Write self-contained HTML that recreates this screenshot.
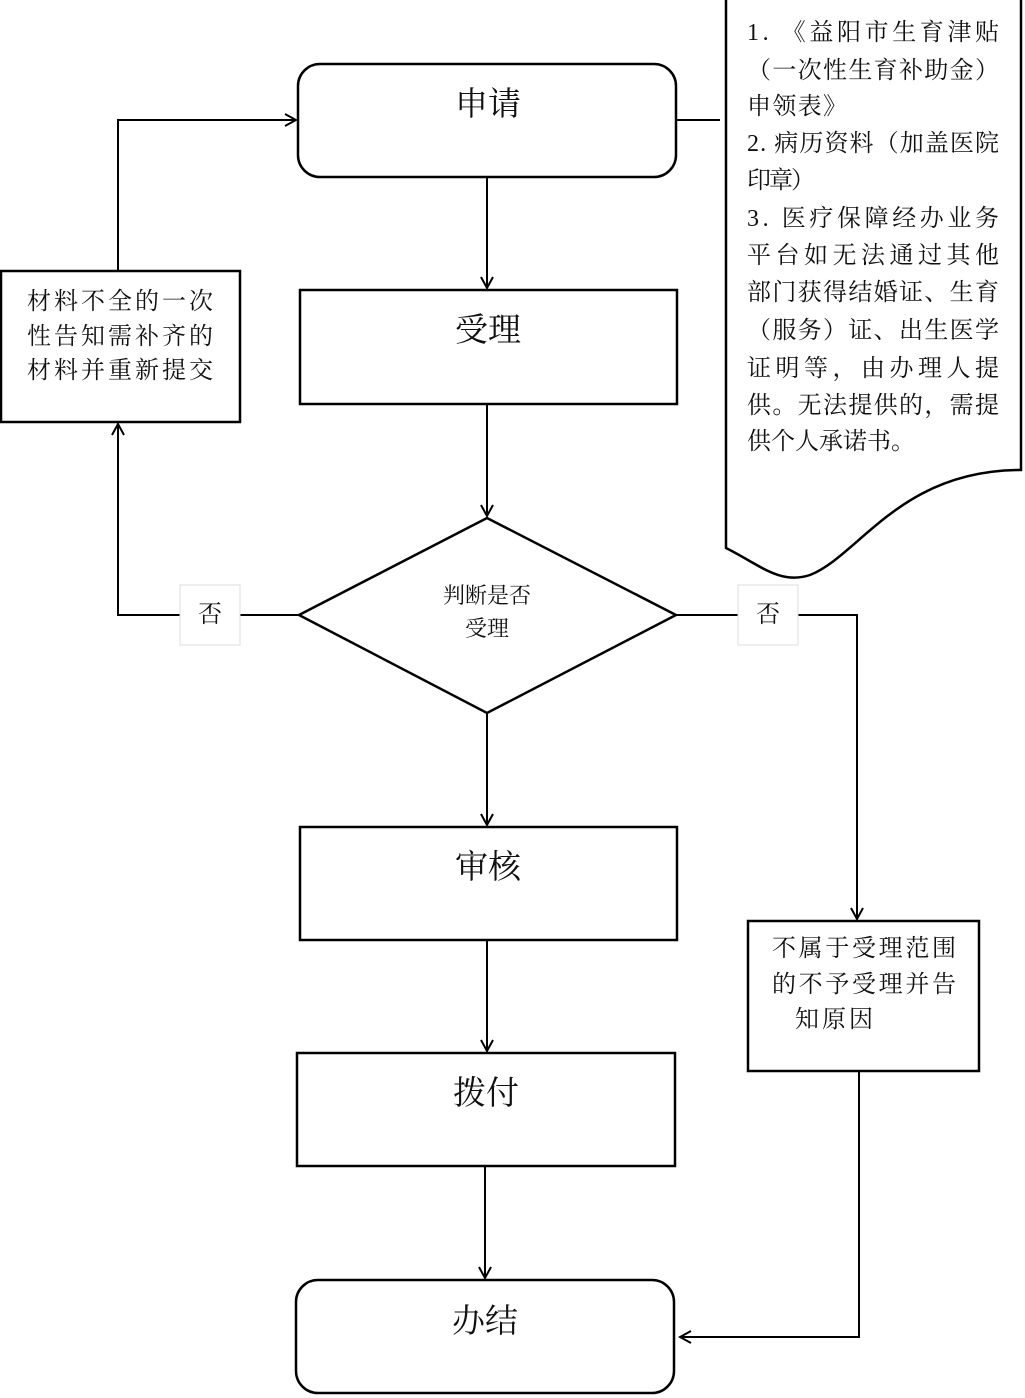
<!DOCTYPE html>
<html><head><meta charset="utf-8"><style>
body{margin:0;background:#fff}
svg{display:block}
text{font-family:"Liberation Serif","Noto Serif CJK SC",serif;fill:#111}
</style></head><body>
<svg width="1025" height="1398" viewBox="0 0 1025 1398" xmlns="http://www.w3.org/2000/svg">
<defs><marker id="a" markerWidth="14" markerHeight="14" refX="12" refY="7" orient="auto" markerUnits="userSpaceOnUse"><path d="M1,1 L12,7 L1,13" fill="none" stroke="#000" stroke-width="2"/></marker></defs>
<g fill="none" stroke="#000" stroke-width="2.5">
<rect x="298" y="64" width="378" height="113" rx="22"/>
<rect x="300" y="290" width="377" height="114"/>
<polygon points="299,615 487,518 676,615 487,713"/>
<rect x="300" y="827" width="377" height="113"/>
<rect x="297" y="1053" width="378" height="113"/>
<rect x="296" y="1280" width="378" height="113" rx="22"/>
<rect x="1" y="271" width="239" height="151"/>
<rect x="748" y="921" width="231" height="150"/>
<path d="M726,0 L726,548 C760,565 780,585 810,575 C860,555 900,470 1021,470 L1021,0"/>
</g>
<g fill="none" stroke="#000" stroke-width="2">
<line x1="676" y1="120" x2="720" y2="120"/>
<line x1="487" y1="177" x2="487" y2="288" marker-end="url(#a)"/>
<line x1="487" y1="404" x2="487" y2="516" marker-end="url(#a)"/>
<line x1="487" y1="713" x2="487" y2="825" marker-end="url(#a)"/>
<line x1="487" y1="940" x2="487" y2="1051" marker-end="url(#a)"/>
<line x1="485" y1="1166" x2="485" y2="1278" marker-end="url(#a)"/>
<polyline points="299,615 118,615 118,424" marker-end="url(#a)"/>
<polyline points="118,271 118,120 296,120" marker-end="url(#a)"/>
<polyline points="676,615 857,615 857,919" marker-end="url(#a)"/>
<polyline points="859,1071 859,1337 680,1337" marker-end="url(#a)"/>
</g>
<rect x="180" y="585" width="60" height="60" fill="#fff" stroke="#ddd"/>
<rect x="738" y="585" width="60" height="60" fill="#fff" stroke="#ddd"/>
<g font-size="24" text-anchor="middle">
<text x="210" y="622">否</text><text x="768" y="622">否</text>
</g>
<g font-size="33" text-anchor="middle">
<text x="488" y="115">申请</text>
<text x="488" y="341">受理</text>
<text x="488" y="878">审核</text>
<text x="486" y="1104">拨付</text>
<text x="485" y="1332">办结</text>
</g>
<g font-size="22" text-anchor="middle">
<text x="487" y="603">判断是否</text><text x="487" y="636">受理</text>
</g>
<g font-size="24">
<text x="27" y="309" textLength="186">材料不全的一次</text>
<text x="27" y="344" textLength="186">性告知需补齐的</text>
<text x="27" y="378" textLength="186">材料并重新提交</text>
<text x="772" y="956" textLength="184">不属于受理范围</text>
<text x="772" y="992" textLength="184">的不予受理并告</text>
<text x="795" y="1027" textLength="78">知原因</text>
</g>
<g font-size="24">
<text x="747" y="40" textLength="252">1. 《益阳市生育津贴</text>
<text x="747" y="78" textLength="252">（一次性生育补助金）</text>
<text x="747" y="114" textLength="100">申领表》</text>
<text x="747" y="151" textLength="252">2. 病历资料（加盖医院</text>
<text x="747" y="188" textLength="68">印章）</text>
<text x="747" y="226" textLength="252">3. 医疗保障经办业务</text>
<text x="747" y="263" textLength="252">平台如无法通过其他</text>
<text x="747" y="300" textLength="252">部门获得结婚证、生育</text>
<text x="747" y="338" textLength="252">（服务）证、出生医学</text>
<text x="747" y="376" textLength="252">证明等，由办理人提</text>
<text x="747" y="413" textLength="252">供。无法提供的，需提</text>
<text x="747" y="449">供个人承诺书。</text>
</g>
</svg>
</body></html>
